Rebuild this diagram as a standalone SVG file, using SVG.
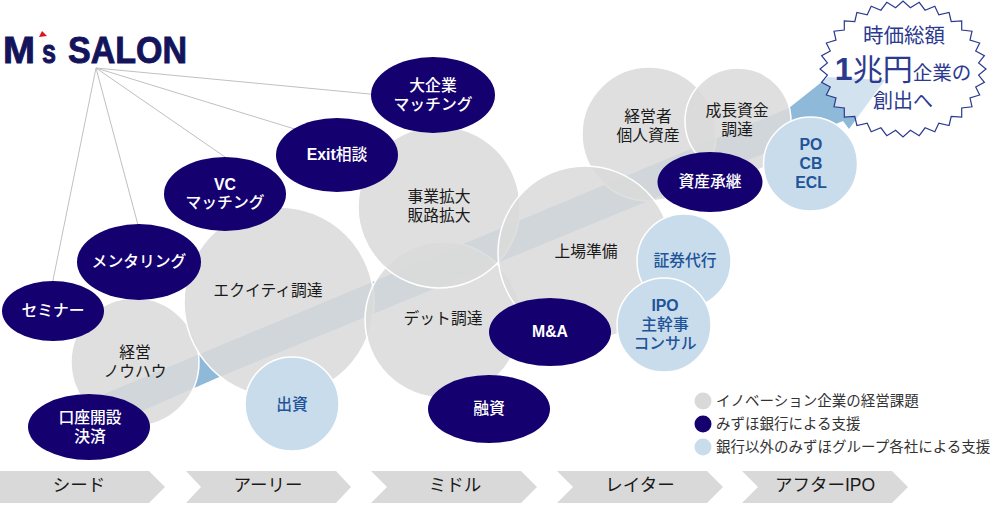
<svg xmlns="http://www.w3.org/2000/svg" width="1000" height="509" viewBox="0 0 1000 509">
<style>
text{font-family:"Liberation Sans","Noto Sans CJK JP",sans-serif;text-anchor:middle;font-size:15.8px}
.g{fill:#dadada;fill-opacity:.866;stroke:#fff;stroke-width:1.5}
.n{fill:#14006f}
.b{fill:#c9dcec;stroke:#fff;stroke-width:1.5}
.tg{fill:#1a1a1a}
.tw{fill:#fff;font-weight:500}
.tb{fill:#1f5499;font-weight:500}
.lat{font-weight:bold}
.c{fill:#d9d9d9}
.st{fill:#2b3a8f}
.l{fill:#333;text-anchor:start;font-size:14.5px}
.sg{fill:#1a1a1a;font-size:17.5px}
.lg{font-weight:bold;text-anchor:start;fill:#14145c;stroke:#14145c;stroke-width:.9}
</style>
<g id="arrow"><polygon points="97,397 789,108 828,77 885,80 849,129 843,121 217,378 110,425" fill="#8fb9d8"/></g>
<g id="connectors" fill="none" stroke="#c0c0c0" stroke-width="1">
<line x1="96" y1="68" x2="433" y2="100"/>
<line x1="96" y1="68" x2="337" y2="142"/>
<line x1="96" y1="68" x2="225" y2="157"/>
<line x1="96" y1="68" x2="138" y2="225"/>
<line x1="96" y1="68" x2="52" y2="285"/>
</g>
<g id="logo">
<text class="lg" x="3" y="63" style="font-size:36px" textLength="32" lengthAdjust="spacingAndGlyphs">M</text>
<text class="lg" x="42" y="63" style="font-size:33px" textLength="14" lengthAdjust="spacingAndGlyphs">s</text>
<text class="lg" x="68" y="63" style="font-size:36px" textLength="119" lengthAdjust="spacingAndGlyphs">SALON</text>
<polygon points="42,31 47,36 39,37" fill="#e0141e"/>
</g>
<g id="n-knowhow"><circle class="g" cx="135" cy="362" r="64"/><text class="tg" x="135" y="358">経営</text><text class="tg" x="135" y="377">ノウハウ</text></g>
<g id="n-equity"><circle class="g" cx="279" cy="302" r="95"/><text class="tg" x="268" y="296">エクイティ調達</text></g>
<g id="n-debt"><circle class="g" cx="443" cy="320" r="78"/><text class="tg" x="443" y="324">デット調達</text></g>
<g id="n-sales"><circle class="g" cx="439" cy="207" r="81"/><text class="tg" x="439" y="202">事業拡大</text><text class="tg" x="439" y="221">販路拡大</text></g>
<g id="n-owner"><circle class="g" cx="649" cy="134" r="67"/><text class="tg" x="648" y="122">経営者</text><text class="tg" x="648" y="141">個人資産</text></g>
<g id="n-listing"><circle class="g" cx="585" cy="253" r="87"/><text class="tg" x="586" y="257">上場準備</text></g>
<g id="n-growth"><circle class="g" cx="738" cy="121" r="53"/><text class="tg" x="737" y="116">成長資金</text><text class="tg" x="737" y="135">調達</text></g>
<g id="n-po"><circle class="b" cx="810.5" cy="164" r="47"/><text class="tb lat" x="811" y="150">PO</text><text class="tb lat" x="811" y="169">CB</text><text class="tb lat" x="811" y="188">ECL</text></g>
<g id="n-transfer"><circle class="b" cx="684" cy="261" r="47"/><text class="tb" x="685" y="266">証券代行</text></g>
<g id="n-ipo"><circle class="b" cx="664" cy="325" r="47"/><text class="tb lat" x="665" y="311">IPO</text><text class="tb" x="665" y="330">主幹事</text><text class="tb" x="665" y="349">コンサル</text></g>
<g id="n-invest"><circle class="b" cx="292" cy="404" r="47"/><text class="tb" x="292" y="410">出資</text></g>
<g id="n-large"><ellipse class="n" cx="433" cy="95" rx="62" ry="38"/><text class="tw" x="433" y="91">大企業</text><text class="tw" x="433" y="110">マッチング</text></g>
<g id="n-exit"><ellipse class="n" cx="337" cy="155" rx="61" ry="37"/><text class="tw" x="337" y="160"><tspan class="lat">Exit</tspan>相談</text></g>
<g id="n-vc"><ellipse class="n" cx="225" cy="194" rx="61" ry="37"/><text class="tw lat" x="225" y="190">VC</text><text class="tw" x="225" y="208">マッチング</text></g>
<g id="n-mentor"><ellipse class="n" cx="139" cy="262" rx="62" ry="38"/><text class="tw" x="139" y="267">メンタリング</text></g>
<g id="n-seminar"><ellipse class="n" cx="53" cy="311" rx="51" ry="30"/><text class="tw" x="53" y="316">セミナー</text></g>
<g id="n-account"><ellipse class="n" cx="89" cy="427" rx="61" ry="33"/><text class="tw" x="90" y="423">口座開設</text><text class="tw" x="90" y="442">決済</text></g>
<g id="n-loan"><ellipse class="n" cx="489" cy="409" rx="61" ry="34"/><text class="tw" x="489" y="414">融資</text></g>
<g id="n-ma"><ellipse class="n" cx="550" cy="332" rx="61" ry="34"/><text class="tw lat" x="550" y="337">M&amp;A</text></g>
<g id="n-succession"><ellipse class="n" cx="710" cy="182" rx="52.5" ry="30"/><text class="tw" x="710" y="187">資産承継</text></g>
<g id="burst">
<polygon transform="translate(903,69)" fill="#fff" fill-opacity=".6" stroke="#2b3a8f" stroke-width="1.2" points="83,0 75.6,6 81.4,13.3 72.7,17.9 76.7,26 67,29 69,37.8 58.7,39 58.7,48.1 48.2,47.5 46.1,56.5 35.8,54.2 31.8,62.8 22.1,58.8 16.2,66.7 7.4,61.2 0,68 -7.4,61.2 -16.2,66.7 -22.1,58.8 -31.8,62.8 -35.8,54.2 -46.1,56.5 -48.2,47.5 -58.7,48.1 -58.7,39 -69,37.8 -67,29 -76.7,26 -72.7,17.9 -81.4,13.3 -75.6,6 -83,0 -75.6,-6 -81.4,-13.3 -72.7,-17.9 -76.7,-26 -67,-29 -69,-37.8 -58.7,-39 -58.7,-48.1 -48.2,-47.5 -46.1,-56.5 -35.8,-54.2 -31.8,-62.8 -22.1,-58.8 -16.2,-66.7 -7.4,-61.2 0,-68 7.4,-61.2 16.2,-66.7 22.1,-58.8 31.8,-62.8 35.8,-54.2 46.1,-56.5 48.2,-47.5 58.7,-48.1 58.7,-39 69,-37.8 67,-29 76.7,-26 72.7,-17.9 81.4,-13.3 75.6,-6"/>
<text class="st" x="904" y="43" style="font-size:20.5px">時価総額</text>
<text class="st" x="903" y="80"><tspan style="font-size:32px;font-weight:bold">1</tspan><tspan style="font-size:30px">兆円</tspan><tspan style="font-size:19.5px">企業の</tspan></text>
<text class="st" x="903" y="108" style="font-size:20px">創出へ</text>
</g>
<g id="stages">
<polygon class="c" points="0,471 149,471 165,487 149,503 0,503"/>
<polygon class="c" points="186,471 336,471 351,487 336,503 186,503 201,487"/>
<polygon class="c" points="371,471 521,471 537,487 521,503 371,503 387,487"/>
<polygon class="c" points="557,471 707,471 723,487 707,503 557,503 573,487"/>
<polygon class="c" points="742,471 892,471 908,487 892,503 742,503 758,487"/>
<text class="sg" x="79" y="491">シード</text>
<text class="sg" x="268" y="491">アーリー</text>
<text class="sg" x="455" y="491">ミドル</text>
<text class="sg" x="640" y="491">レイター</text>
<text class="sg" x="825" y="491">アフターIPO</text>
</g>
<g id="legend">
<circle cx="703" cy="401" r="8.5" fill="#d9d9d9"/><text class="l" x="716" y="406">イノベーション企業の経営課題</text>
<circle cx="703" cy="424" r="8.5" fill="#14006f"/><text class="l" x="716" y="429">みずほ銀行による支援</text>
<circle cx="703" cy="447" r="8.5" fill="#c9dcec"/><text class="l" x="716" y="452">銀行以外のみずほグループ各社による支援</text>
</g>
</svg>
